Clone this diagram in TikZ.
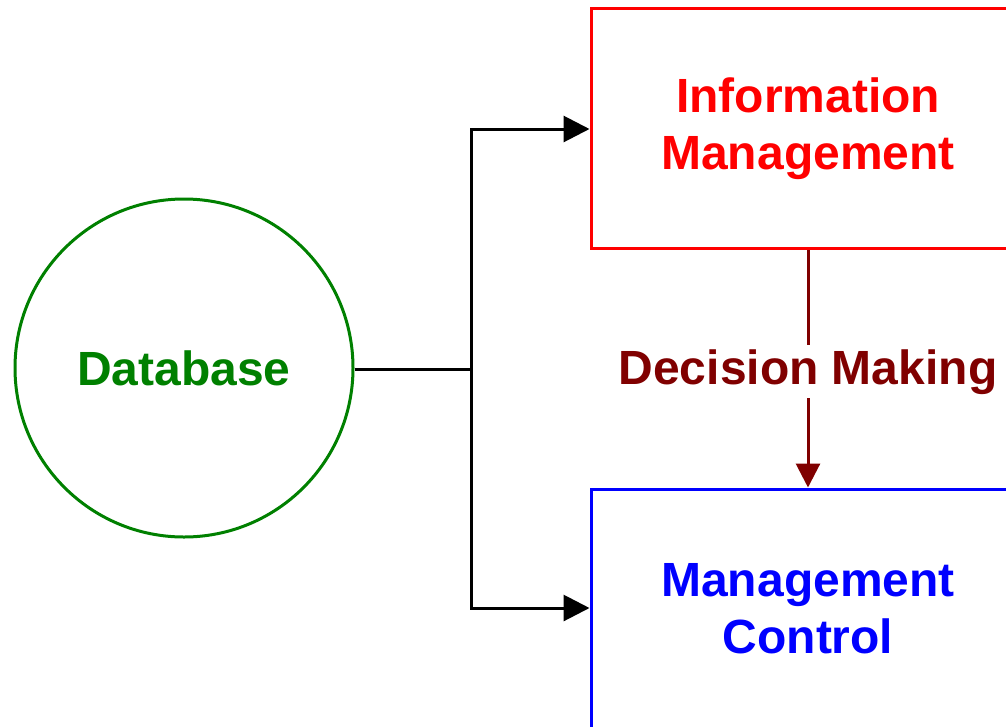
\documentclass[tikz,border=0pt]{standalone}
\usepackage{fontspec}
\setmainfont{Liberation Sans}
\usetikzlibrary{arrows.meta,positioning}
\definecolor{dbgreen}{RGB}{0,128,0}
\definecolor{imred}{RGB}{255,0,0}
\definecolor{mcblue}{RGB}{0,0,255}
\definecolor{dmred}{RGB}{128,0,0}
\tikzset{
  lbl/.style={font=\bfseries\fontsize{48}{57}\selectfont, align=center},
  procbox/.style={draw, line width=3pt, minimum width=434pt, minimum height=240pt, lbl},
  link/.style={line width=3pt, -{Triangle[length=26pt,width=26pt]}},
}
\begin{document}
\begin{tikzpicture}[x=1pt,y=-1pt]
  \useasboundingbox (0,0) rectangle (1006,726);
  \clip (0,0) rectangle (1006,726);
  % data source
  \node[circle, draw=dbgreen, line width=3pt, minimum size=338pt, text=dbgreen, lbl]
    (db) at (184,368) {Database};
  % the two management blocks
  \node[procbox, draw=imred, text=imred] (im) at (808,128.5) {Information\\Management};
  \node[procbox, draw=mcblue, text=mcblue] (mc) at (808,609) {Management\\Control};
  % branching feed from the database
  \coordinate (fork) at (471,369);
  \coordinate (up) at (471,129);
  \coordinate (down) at (471,608);
  \draw[line width=3pt] (db.east |- fork) -- (fork);
  \draw[link] (fork) -- (up) -- (im.west |- up);
  \draw[link] (fork) -- (down) -- (mc.west |- down);
  % decision step between the blocks
  \draw[dmred, line width=3pt, -{Triangle[length=24pt,width=24pt]}]
    (im.south) -- node[fill=white, text=dmred, lbl, inner sep=4pt, yshift=-3pt] (dm) {Decision Making} (mc.north);
\end{tikzpicture}
\end{document}
